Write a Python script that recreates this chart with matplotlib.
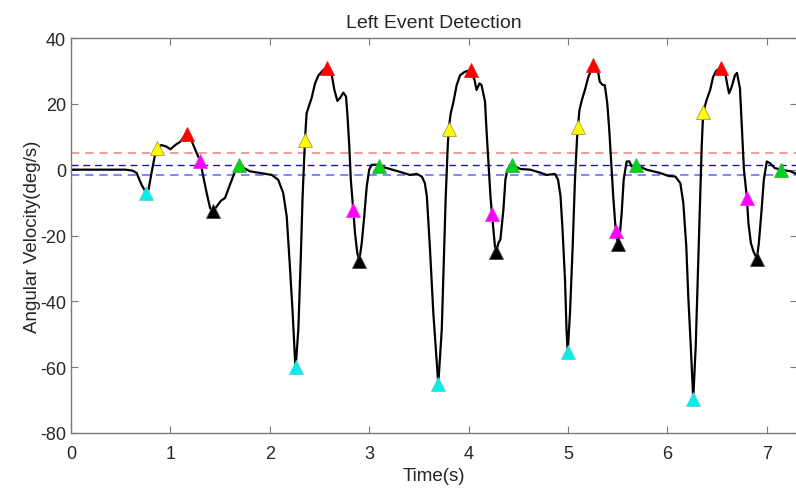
import numpy as np
import matplotlib
matplotlib.use('Agg')
import matplotlib.pyplot as plt

# 左侧事件检测 - 角速度曲线和事件点

plt.rcParams['font.family'] = ['Liberation Sans', 'DejaVu Sans']
plt.rcParams['axes.unicode_minus'] = False

# 角速度曲线 (time, deg/s)
time_s = [0.00, 0.55, 0.62, 0.66, 0.71, 0.755, 0.78, 0.81, 0.845, 0.87, 0.91, 0.96, 1.00, 1.05, 1.10, 1.15, 1.17,
          1.21, 1.265, 1.30, 1.33, 1.365, 1.40, 1.43, 1.465, 1.51, 1.55, 1.58, 1.63, 1.665, 1.69, 1.77, 1.80,
          1.90, 2.02, 2.085, 2.135, 2.17, 2.20, 2.23, 2.255, 2.26, 2.287, 2.31, 2.33, 2.344, 2.354, 2.37, 2.39,
          2.42, 2.455, 2.49, 2.54, 2.58, 2.62, 2.65, 2.68, 2.705, 2.74, 2.767, 2.78, 2.80, 2.815, 2.84, 2.857,
          2.88, 2.90, 2.925, 2.95, 2.975, 3.00, 3.025, 3.075, 3.10, 3.175, 3.29, 3.41, 3.48, 3.53, 3.56, 3.58,
          3.61, 3.645, 3.68, 3.695, 3.73, 3.75, 3.77, 3.79, 3.80, 3.82, 3.845, 3.88, 3.915, 3.96, 4.02, 4.06,
          4.08, 4.11, 4.13, 4.165, 4.18, 4.20, 4.22, 4.235, 4.25, 4.265, 4.28, 4.30, 4.32, 4.35, 4.37, 4.39,
          4.415, 4.44, 4.52, 4.62, 4.72, 4.785, 4.87, 4.90, 4.925, 4.945, 4.97, 4.985, 4.997, 5.02, 5.047, 5.07,
          5.09, 5.10, 5.115, 5.14, 5.17, 5.205, 5.255, 5.305, 5.32, 5.35, 5.37, 5.395, 5.415, 5.435, 5.455,
          5.48, 5.50, 5.52, 5.54, 5.56, 5.59, 5.617, 5.64, 5.68, 5.79, 5.925, 6.01, 6.08, 6.13, 6.16, 6.19,
          6.21, 6.235, 6.26, 6.285, 6.305, 6.33, 6.345, 6.36, 6.395, 6.43, 6.46, 6.49, 6.54, 6.58, 6.60, 6.62,
          6.647, 6.68, 6.70, 6.73, 6.75, 6.77, 6.80, 6.815, 6.84, 6.865, 6.90, 6.92, 6.945, 6.97, 7.00, 7.03,
          7.08, 7.14, 7.24, 7.30]
velocity = [0.0, 0.0, -0.3, -1.0, -4.6, -7.0, -6.1, -1.0, 4.5, 6.6, 7.5, 7.0, 6.2, 7.5, 8.5, 10.6, 10.8,
            9.0, 5.0, 2.7, -2.0, -7.1, -11.7, -12.6, -11.2, -9.4, -8.6, -6.1, -2.1, 0.8, 1.3, 0.0, -0.5,
            -1.0, -1.6, -3.1, -7.1, -14.2, -28.3, -43.5, -58.6, -60.1, -48.5, -28.3, -8.1, 2.0, 9.1, 17.1, 19.0,
            21.7, 26.2, 28.7, 30.3, 31.0, 29.3, 24.2, 20.9, 21.7, 23.4, 22.2, 17.1, 7.0, -3.1, -12.4, -19.2,
            -25.3, -27.6, -22.3, -14.2, -5.1, 0.0, 1.5, 1.5, 1.0, 0.5, -0.5, -1.6, -1.3, -2.1, -4.1, -8.1,
            -23.3, -43.5, -58.5, -65.2, -48.5, -28.3, -8.1, 7.0, 12.4, 17.1, 20.2, 25.7, 28.7, 29.7, 30.3, 27.2,
            24.2, 26.2, 25.7, 20.7, 12.1, 2.0, -8.1, -13.4, -18.2, -23.3, -24.9, -22.3, -21.2, -12.2, -3.1, 0.0,
            1.0, 1.5, 0.2, 0.0, -0.9, -1.6, -1.3, -3.1, -8.1, -18.2, -33.5, -48.5, -55.5, -43.5, -23.3, -3.1,
            9.0, 13.1, 18.1, 21.2, 24.2, 28.2, 31.8, 29.3, 26.7, 25.7, 25.7, 20.2, 12.1, 2.0, -8.1,
            -18.5, -22.7, -20.2, -13.2, -3.1, 2.5, 2.5, 1.0, 1.5, 0.0, -1.0, -1.9, -2.1, -4.1, -10.1, -23.3,
            -38.5, -53.5, -69.7, -53.5, -33.5, -8.1, 7.0, 17.4, 21.2, 24.2, 28.2, 30.0, 31.0, 29.7, 26.2, 23.2,
            25.2, 28.7, 29.4, 24.7, 12.1, 0.0, -8.6, -16.2, -22.3, -24.8, -27.1, -22.3, -13.2, -3.1, 2.5, 2.0,
            0.5, 0.0, -0.5, -1.3]

# 事件点
cyan_t = [0.755, 2.26, 3.695, 4.997, 6.26]
cyan_v = [-7.0, -60.1, -65.2, -55.5, -69.7]
yellow_t = [0.87, 2.354, 3.80, 5.10, 6.36]
yellow_v = [6.6, 9.1, 12.4, 13.1, 17.4]
red_t = [1.17, 2.58, 4.02, 5.255, 6.54]
red_v = [10.8, 31.0, 30.3, 31.8, 31.0]
magenta_t = [1.30, 2.84, 4.235, 5.48, 6.80]
magenta_v = [2.7, -12.4, -13.4, -18.5, -8.6]
black_t = [1.43, 2.90, 4.28, 5.50, 6.90]
black_v = [-12.6, -27.6, -24.9, -22.7, -27.1]
green_t = [1.69, 3.10, 4.44, 5.68, 7.14]
green_v = [1.3, 1.0, 1.5, 1.5, 0.0]

# 阈值
thr_high = 5.0
thr_pos = 1.5
thr_neg = -1.5

fig = plt.figure(figsize=(7.96, 4.89), dpi=100)
# 右边界超出画布, x 轴截到 7.3 左右
ax = fig.add_axes([71 / 796, 55 / 489, 7.3 * 99.4 / 796, 395 / 489])

ax.plot(time_s, velocity, color='black', lw=1.6, zorder=2)

dash = (0, (5, 3.5))
ax.axhline(thr_high, color='#f08a8a', lw=1.2, ls=dash, zorder=1)
ax.axhline(thr_pos, color='#1a1aa8', lw=1.0, ls=dash, zorder=1)
ax.axhline(thr_neg, color='#7070ff', lw=1.2, ls=dash, zorder=1)

ms = 10
ax.plot(cyan_t, cyan_v, '^', ms=ms, mfc='#00f0f0', mec='#66cccc', mew=0.6, zorder=3)
ax.plot(yellow_t, yellow_v, '^', ms=ms, mfc='#ffff00', mec='#a89c40', mew=0.6, zorder=3)
ax.plot(red_t, red_v, '^', ms=ms, mfc='#ff0000', mec='#e02020', mew=0.6, zorder=3)
ax.plot(magenta_t, magenta_v, '^', ms=ms, mfc='#ff00ff', mec='#e040e0', mew=0.6, zorder=3)
ax.plot(black_t, black_v, '^', ms=ms, mfc='#000000', mec='#404040', mew=0.6, zorder=3)
ax.plot(green_t, green_v, '^', ms=ms, mfc='#00d21e', mec='#40b040', mew=0.6, zorder=3)

ax.set_xlim(0, 7.3)
ax.set_ylim(-80, 40)
ax.set_xticks(np.arange(0, 8, 1))
ax.set_yticks(np.arange(-80, 41, 20))

axis_col = '#7a7a7a'
for side in ['left', 'bottom', 'top', 'right']:
    ax.spines[side].set_color(axis_col)
    ax.spines[side].set_linewidth(1.0)
ax.tick_params(direction='in', top=True, right=True, length=5, color=axis_col,
               labelsize=13, labelcolor='#262626')
ax.tick_params(axis='x', pad=9)

ax.set_xlabel('Time(s)', fontsize=13.5, color='#262626', labelpad=3)
ax.set_ylabel('Angular Velocity(deg/s)', fontsize=13.5, color='#262626', labelpad=-1)
ax.set_title('Left Event Detection', fontsize=14, color='#262626', pad=8)

fig.savefig('out.png', dpi=100)
